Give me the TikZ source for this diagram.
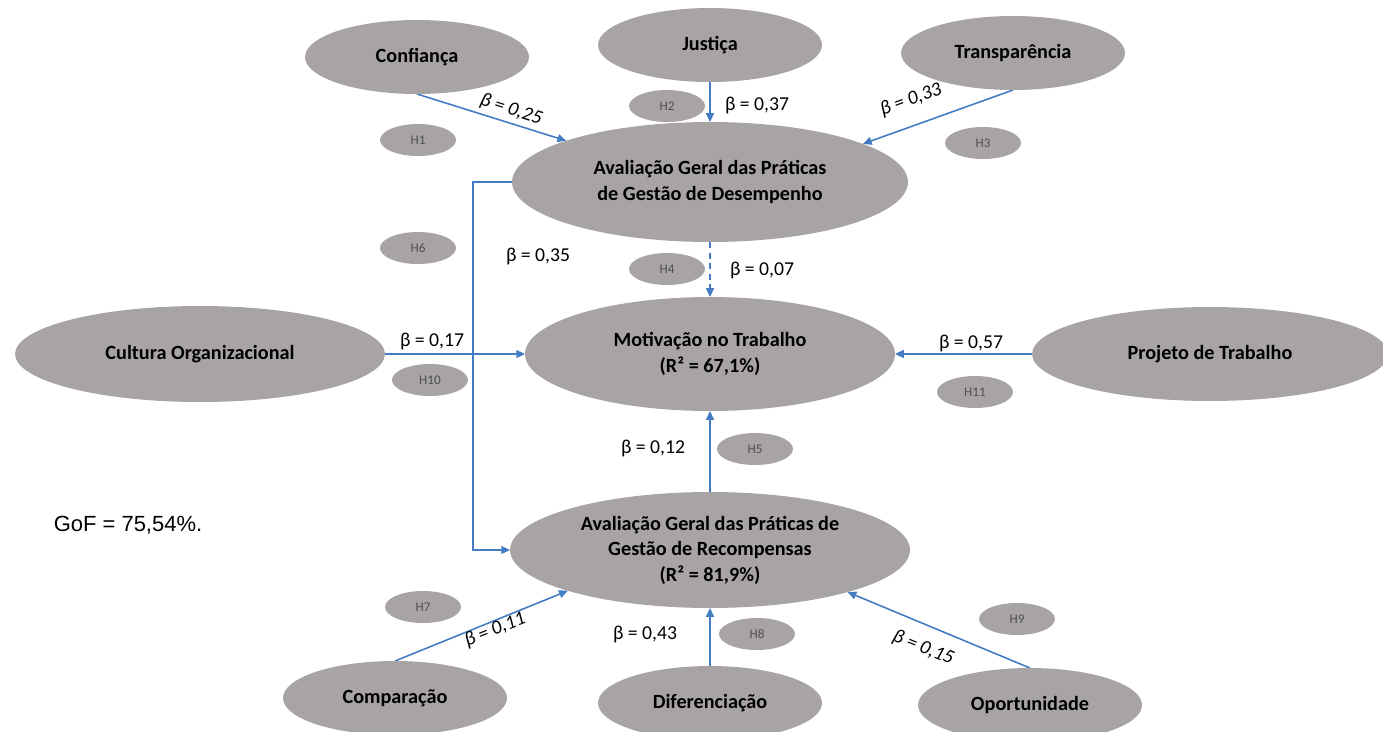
\documentclass[tikz,border=0pt]{standalone}
\usepackage{fontspec}
\setmainfont{Carlito}
\newfontfamily\goffont{Liberation Sans}
\usetikzlibrary{shapes.geometric,arrows.meta}
\pgfdeclarelayer{edgelayer}
\pgfdeclarelayer{nodelayer}
\pgfsetlayers{edgelayer,nodelayer,main}
\definecolor{latentgray}{RGB}{167,164,163}
\definecolor{effectblue}{RGB}{68,124,196}
\definecolor{hypgray}{RGB}{80,80,80}
\tikzstyle{latent}=[ellipse, fill=latentgray, inner sep=0pt, outer sep=0pt, align=center, font=\fontsize{11.5}{14.5}\selectfont\bfseries]
\tikzstyle{small}=[latent, minimum width=4.48cm, minimum height=1.48cm]
\tikzstyle{hyp}=[ellipse, fill=latentgray, inner sep=0pt, minimum width=1.52cm, minimum height=0.64cm, text=hypgray, font=\fontsize{7.5}{8}\selectfont]
\tikzstyle{effect}=[draw=effectblue, line width=0.9pt, -{Triangle[length=5pt,width=4.5pt]}]
\tikzstyle{beta}=[inner sep=1pt, font=\fontsize{11.2}{12}\selectfont]
\tikzstyle{betaslant}=[inner sep=0.5pt, font=\fontsize{11.2}{12}\selectfont\itshape]

\begin{document}
\begin{tikzpicture}[x=0.02cm, y=-0.02cm]
			\useasboundingbox (0, 0) rectangle (1383, 731);
			\begin{pgfonlayer}{nodelayer}
				\node [style=small] (0) at (417, 57) {Confiança};
				\node [style=small] (1) at (710, 45) {Justiça};
				\node [style=small] (2) at (1013, 53) {Transparência};
				\node [style=latent, minimum width=7.92cm, minimum height=2.4cm] (3) at (710, 182) {Avaliação Geral das Práticas\\de Gestão de Desempenho};
				\node [style=latent, minimum width=7.4cm, minimum height=1.92cm] (4) at (200, 354) {Cultura Organizacional};
				\node [style=latent, minimum width=7.4cm, minimum height=2.28cm] (5) at (710, 354) {Motivação no Trabalho\\(R² = 67,1\%)};
				\node [style=latent, minimum width=7.12cm, minimum height=1.88cm] (6) at (1210, 354) {Projeto de Trabalho};
				\node [style=latent, minimum width=8cm, minimum height=2.32cm] (7) at (710, 550) {Avaliação Geral das Práticas de\\Gestão de Recompensas\\(R² = 81,9\%)};
				\node [style=small] (8) at (395, 698) {Comparação};
				\node [style=small] (9) at (710, 703) {Diferenciação};
				\node [style=small] (10) at (1030, 705) {Oportunidade};
				\node [style=hyp] (h1) at (418, 140) {H1};
				\node [style=hyp] (h2) at (667, 106) {H2};
				\node [style=hyp] (h3) at (983, 143) {H3};
				\node [style=hyp] (h4) at (667, 269) {H4};
				\node [style=hyp] (h5) at (755, 449) {H5};
				\node [style=hyp] (h6) at (418, 248) {H6};
				\node [style=hyp] (h7) at (423, 607) {H7};
				\node [style=hyp] (h8) at (757, 634) {H8};
				\node [style=hyp] (h9) at (1017, 619) {H9};
				\node [style=hyp] (h10) at (430, 380) {H10};
				\node [style=hyp] (h11) at (975, 392) {H11};
				\node [style=betaslant, rotate=-18] (b1) at (511, 110) {β = 0,25};
				\node [style=beta] (b2) at (757, 105) {β = 0,37};
				\node [style=betaslant, rotate=20] (b3) at (911, 100) {β = 0,33};
				\node [style=beta] (b4) at (762, 270) {β = 0,07};
				\node [style=beta] (b5) at (653, 448) {β = 0,12};
				\node [style=beta] (b6) at (538, 256) {β = 0,35};
				\node [style=betaslant, rotate=22] (b7) at (495, 630) {β = 0,11};
				\node [style=beta] (b8) at (645, 634) {β = 0,43};
				\node [style=betaslant, rotate=-22] (b9) at (923, 648) {β = 0,15};
				\node [style=beta] (b10) at (432, 341) {β = 0,17};
				\node [style=beta] (b11) at (971, 343) {β = 0,57};
				\node [font=\goffont\fontsize{12.5}{14}\selectfont] (gof) at (128, 525) {GoF = 75,54\%.};
			\end{pgfonlayer}
			\begin{pgfonlayer}{edgelayer}
				\draw [style=effect] (0.south) to (3.164);
				\draw [style=effect] (1.south) to (3.north);
				\draw [style=effect] (2.south) to (3.14);
				\draw [style=effect, dash pattern=on 3.5pt off 2.5pt] (3.south) to (5.north);
				\draw [style=effect] (4.east) to (5.west);
				\draw [style=effect] (6.west) to (5.east);
				\draw [style=effect] (7.north) to (5.south);
				\draw [style=effect] (3.west) -- ++(-39, 0) |- (7.west);
				\draw [style=effect] (8.north) to (7.196);
				\draw [style=effect] (9.north) to (7.south);
				\draw [style=effect] (10.north) to (7.-17);
			\end{pgfonlayer}
		\end{tikzpicture}
\end{document}
